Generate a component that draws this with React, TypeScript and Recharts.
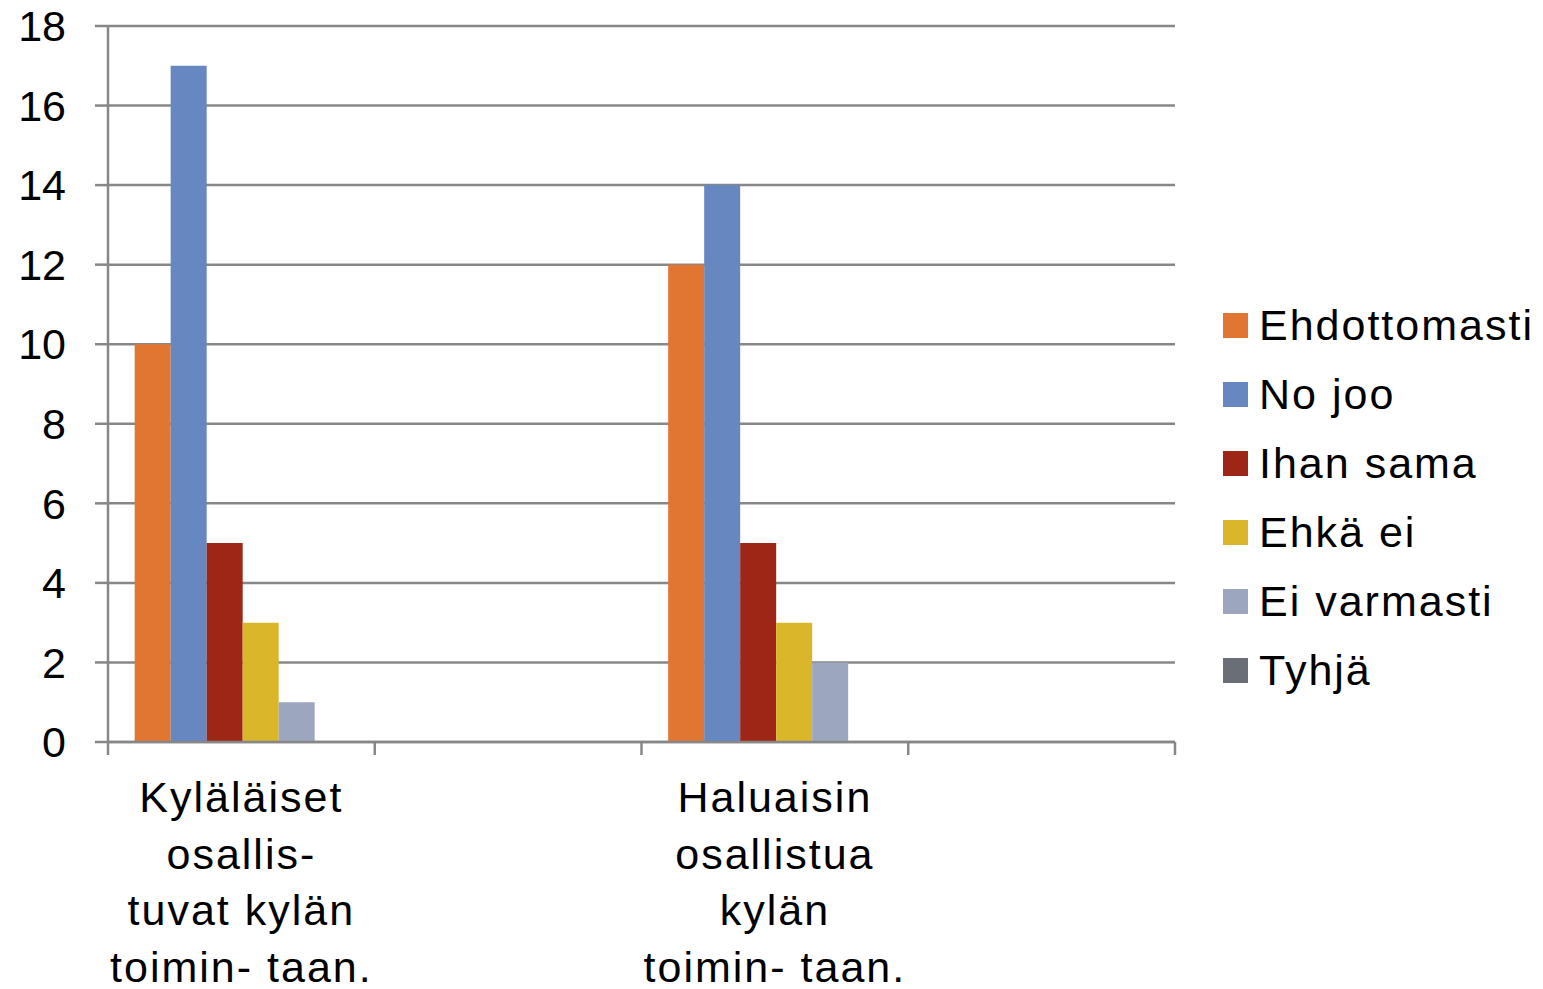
import React from 'react';
import { BarChart, Bar, XAxis, YAxis, CartesianGrid } from 'recharts';

// category labels, already broken into the lines used in the picture
const categoryLines: string[][] = [
  ['Kyläläiset', 'osallis-', 'tuvat kylän', 'toimin- taan.'],
  [],
  ['Haluaisin', 'osallistua', 'kylän', 'toimin- taan.'],
  [],
];

const seriesNames = ['Ehdottomasti', 'No joo', 'Ihan sama', 'Ehkä ei', 'Ei varmasti', 'Tyhjä'];
const seriesColors = ['#E07631', '#6787C0', '#9E2617', '#DAB62A', '#9CA6BF', '#6A6E76'];

const ehdottomasti = [10, null, 12, null];
const noJoo = [17, null, 14, null];
const ihanSama = [5, null, 5, null];
const ehkaEi = [3, null, 3, null];
const eiVarmasti = [1, null, 2, null];
const tyhja = [0, null, 0, null];

const yTicks = [0, 2, 4, 6, 8, 10, 12, 14, 16, 18];

const seriesValues = [ehdottomasti, noJoo, ihanSama, ehkaEi, eiVarmasti, tyhja];

const data = categoryLines.map((lines, i) => {
  const row: any = { name: lines.join(' ') || `empty${i}`, idx: i };
  seriesNames.forEach((s, k) => {
    row[s] = seriesValues[k][i];
  });
  return row;
});

const FONT = '"Liberation Sans", Arial, sans-serif';
const AXIS_COLOR = '#878787';
const PLOT_LEFT = 108;
const PLOT_RIGHT = 1175;
const BAND = (PLOT_RIGHT - PLOT_LEFT) / categoryLines.length;

const CategoryTick = ({ x, y, payload, index }: any) => {
  const axisY = y;
  const lines = categoryLines[payload.index ?? index] || [];
  const isLast = (payload.index ?? index) === categoryLines.length - 1;
  return (
    <g>
      <line x1={x - BAND / 2} x2={x - BAND / 2} y1={axisY} y2={axisY + 13} stroke={AXIS_COLOR} strokeWidth={2.5} />
      {isLast && (
        <line x1={x + BAND / 2} x2={x + BAND / 2} y1={axisY} y2={axisY + 13} stroke={AXIS_COLOR} strokeWidth={2.5} />
      )}
      <text textAnchor="middle" fontSize={43} fontFamily={FONT} fill="#000" letterSpacing={2}>
        {lines.map((l, k) => (
          <tspan key={k} x={x} y={axisY + 70 + k * 56.7}>
            {l}
          </tspan>
        ))}
      </text>
    </g>
  );
};

const ChartLegend = () => (
  <div
    style={{
      position: 'absolute',
      left: 1223,
      top: 291,
      fontFamily: FONT,
      fontSize: 43,
      letterSpacing: 2,
      color: '#000',
    }}
  >
    {seriesNames.map((s, i) => (
      <div key={s} style={{ display: 'flex', alignItems: 'center', height: 69 }}>
        <span style={{ width: 25, height: 25, background: seriesColors[i], marginRight: 11, flexShrink: 0 }} />
        <span style={{ whiteSpace: 'nowrap', lineHeight: '69px' }}>{s}</span>
      </div>
    ))}
  </div>
);

export default function App() {
  return (
    <div style={{ position: 'absolute', left: 0, top: 0, width: 1543, height: 989, background: '#fff' }}>
      <BarChart
        width={1543}
        height={989}
        data={data}
        margin={{ top: 26, right: 368, bottom: 0, left: 0 }}
        barCategoryGap="10%"
        barGap={0}
      >
        <CartesianGrid vertical={false} stroke={AXIS_COLOR} strokeWidth={2.5} strokeDasharray="" />
        <XAxis
          dataKey="name"
          interval={0}
          tickLine={false}
          tickSize={0}
          tickMargin={0}
          height={247}
          axisLine={{ stroke: AXIS_COLOR, strokeWidth: 2.5 }}
          tick={<CategoryTick />}
        />
        <YAxis
          width={108}
          domain={[0, 18]}
          ticks={yTicks}
          interval={0}
          tickSize={13}
          tickMargin={29}
          tickLine={{ stroke: AXIS_COLOR, strokeWidth: 2.5 }}
          axisLine={{ stroke: AXIS_COLOR, strokeWidth: 2.5 }}
          tick={{ fontSize: 43, fill: '#000', fontFamily: FONT }}
        />
        {seriesNames.map((s, i) => (
          <Bar key={s} dataKey={s} fill={seriesColors[i]} isAnimationActive={false} />
        ))}
      </BarChart>
      <ChartLegend />
    </div>
  );
}
